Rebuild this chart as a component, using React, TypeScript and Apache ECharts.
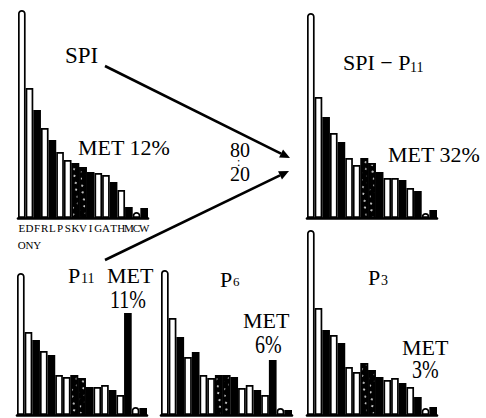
import React, { useEffect, useRef } from "react";
import * as echarts from "echarts";

// Amino acid categories (x axis, first panel shows the labels)
const categories = ["E", "D", "F", "R", "L", "P", "S", "K", "V", "I", "G", "A", "T", "H", "M", "C", "W"];
const secondRowLabels = ["O", "N", "Y"];
// bar shading: w = white, b = black, s = stippled
const shading = ["w", "w", "b", "w", "b", "w", "w", "s", "s", "b", "w", "w", "b", "w", "b", "w", "b"];

// relative amounts (arbitrary units)
const spiValues = [208, 130, 108, 90, 78, 66, 58, 55, 51, 46, 45, 43, 36, 28, 11, 6, 10];
const spiMinusP11Values = [205, 121, 101, 85, 76, 60, 53, 60, 55, 46, 40, 40, 38, 30, 27, 5, 8];
const p11Values = [142, 83, 75, 64, 60, 40, 38, 40, 37, 28, 28, 30, 25, 20, 102, 8, 7];
const p6Values = [145, 97, 78, 58, 63, 40, 37, 40, 40, 38, 27, 30, 25, 20, 55, 7, 5];
const p3Values = [185, 107, 85, 80, 72, 48, 43, 52, 45, 38, 35, 37, 32, 28, 18, 7, 8];

const panels = [
  { values: spiValues, left: 18, top: 8, width: 130, labels: true },
  { values: spiMinusP11Values, left: 307, top: 8, width: 130, labels: false },
  { values: p11Values, left: 17, top: 205, width: 130, labels: false },
  { values: p6Values, left: 161, top: 205, width: 131, labels: false },
  { values: p3Values, left: 307, top: 205, width: 130, labels: false },
];

const SERIF = "Liberation Serif";

function itemFor(v: number, i: number) {
  const kind = shading[i];
  const style: any = {
    color: kind === "w" ? "#fff" : "#000",
    borderColor: "#000",
    borderWidth: 1.7,
  };
  if (i === 0) style.borderRadius = [5, 5, 0, 0];
  if (categories[i] === "C") style.borderRadius = [3, 3, 0, 0];
  if (kind === "s") {
    style.decal = {
      symbol: "circle",
      symbolSize: 0.9,
      color: "#fff",
      dashArrayX: [[2, 5], [0, 3, 2, 2]],
      dashArrayY: [2, 4],
      rotation: 0.4,
    };
  } else {
    style.decal = "none";
  }
  return { value: v, itemStyle: style };
}

// capTop is the top of the capitals; the box is kept tight around them
function txt(text: string, x: number, capTop: number, size = 22, scaleX = 1) {
  const lh = Math.round(size * 0.7);
  return {
    type: "text",
    x,
    y: capTop,
    scaleX,
    style: {
      text,
      fontSize: size,
      lineHeight: lh,
      fontFamily: SERIF,
      fill: "#000",
      verticalAlign: "top",
    },
  };
}

function arrow(x1: number, y1: number, x2: number, y2: number) {
  const dx = x2 - x1;
  const dy = y2 - y1;
  const len = Math.sqrt(dx * dx + dy * dy);
  const ux = dx / len;
  const uy = dy / len;
  const bx = x2 - 10 * ux;
  const by = y2 - 10 * uy;
  const px = -uy;
  const py = ux;
  return [
    { type: "line", shape: { x1, y1, x2: bx, y2: by }, style: { stroke: "#000", lineWidth: 2.6 } },
    {
      type: "polygon",
      shape: {
        points: [
          [x2, y2],
          [bx + 4.5 * px, by + 4.5 * py],
          [bx - 4.5 * px, by - 4.5 * py],
        ],
      },
      style: { fill: "#000" },
    },
  ];
}

export default function App() {
  const ref = useRef<HTMLDivElement>(null);
  useEffect(() => {
    if (!ref.current) return;
    const chart = echarts.init(ref.current, null, { renderer: "svg" });
    const option: any = {
      animation: false,
      backgroundColor: "#fff",
      aria: { enabled: true, decal: { show: true } },
      grid: panels.map((p) => ({ left: p.left, top: p.top, width: p.width, height: 210 })),
      xAxis: panels.map((p, gi) => ({
        type: "category",
        gridIndex: gi,
        data: categories,
        axisLine: { show: true, lineStyle: { color: "#000", width: 2.6 } },
        axisTick: { show: false },
        axisLabel: {
          show: p.labels,
          interval: 0,
          margin: 1,
          fontSize: 11,
          lineHeight: 17,
          fontFamily: SERIF,
          color: "#000",
          formatter: (v: string, idx: number) =>
            idx < secondRowLabels.length ? v + "\n" + secondRowLabels[idx] : v,
        },
      })),
      yAxis: panels.map((_, gi) => ({
        type: "value",
        gridIndex: gi,
        min: 0,
        max: 210,
        show: false,
      })),
      series: panels.map((p, gi) => ({
        type: "bar",
        xAxisIndex: gi,
        yAxisIndex: gi,
        barCategoryGap: "0%",
        data: p.values.map((v, i) => itemFor(v, i)),
      })),
      graphic: [
        txt("SPI", 65, 47, 23),
        txt("MET 12%", 78, 140),
        txt("80", 230, 143, 20),
        txt(":", 237, 158, 12),
        txt("20", 230, 167, 20),
        txt("SPI − P", 343, 55),
        txt("11", 410, 62, 14),
        txt("MET 32%", 388, 147),
        txt("P", 68, 268),
        txt("11", 81, 273, 14),
        txt("MET", 107, 268),
        txt("11%", 110, 291, 25, 0.8),
        txt("P", 220, 272),
        txt("6", 233, 277, 13),
        txt("MET", 243, 313),
        txt("6%", 255, 336, 25, 0.8),
        txt("P", 368, 270),
        txt("3", 381, 275, 14),
        txt("MET", 402, 340),
        txt("3%", 412, 361, 25, 0.8),
        ...arrow(105, 66, 290, 158),
        ...arrow(105, 260, 289, 171),
      ],
    };
    chart.setOption(option);
    return () => chart.dispose();
  }, []);
  return (
    <div
      ref={ref}
      style={{ position: "fixed", left: 0, top: 0, width: 486, height: 418, background: "#fff" }}
    />
  );
}
